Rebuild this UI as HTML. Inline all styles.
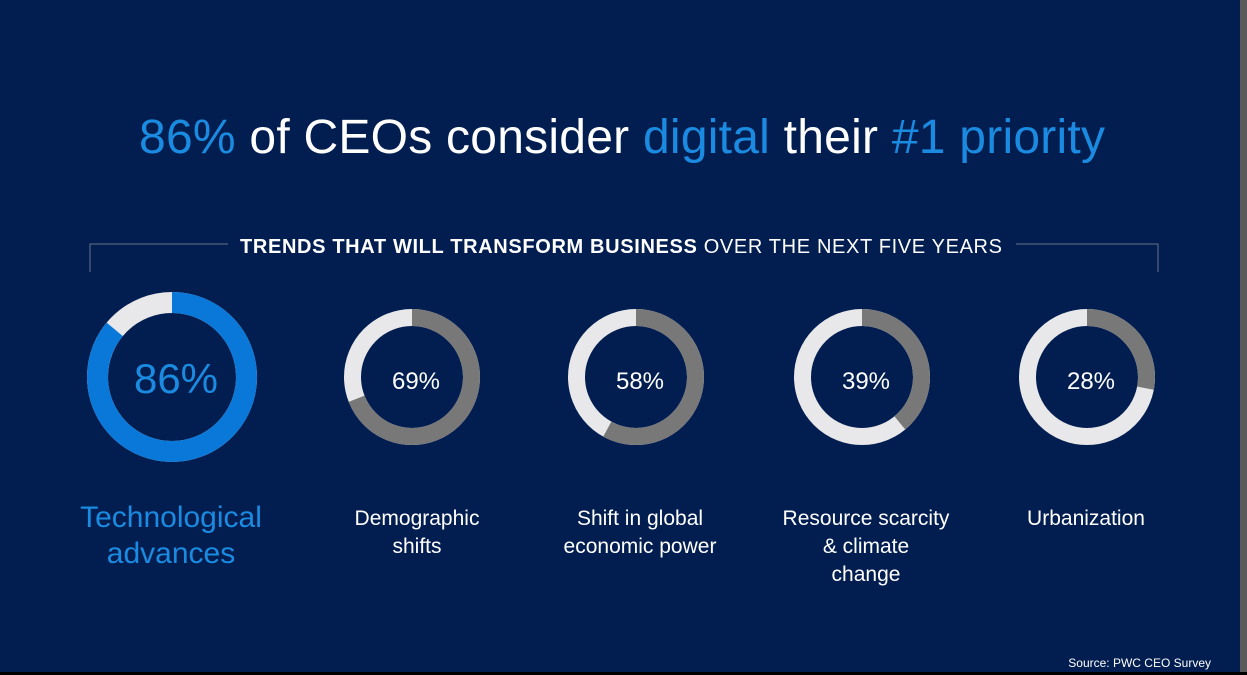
<!DOCTYPE html>
<html><head><meta charset="utf-8"><style>
html,body{margin:0;padding:0;width:1247px;height:675px;overflow:hidden;background:#000;}
svg{display:block}
</style></head><body>
<svg width="1247" height="675" viewBox="0 0 1247 675" xmlns="http://www.w3.org/2000/svg" font-family="'Liberation Sans', sans-serif">
<rect x="0" y="0" width="1240" height="672" fill="#021e51"/>
<rect x="1240" y="0" width="7" height="672" fill="#5a5a5a"/>
<text x="622" y="153" text-anchor="middle" font-size="48" textLength="966" fill="#fff"><tspan fill="#1a8be0">86%</tspan> of CEOs consider <tspan fill="#1a8be0">digital</tspan> their <tspan fill="#1a8be0">#1 priority</tspan></text>
<path d="M90 272 V244 H228 M1016 244 H1158 V272" stroke="#6a7286" stroke-width="1" fill="none"/>
<text x="621" y="253" text-anchor="middle" font-size="20" textLength="762" fill="#fff"><tspan font-weight="bold">TRENDS THAT WILL TRANSFORM BUSINESS</tspan> OVER THE NEXT FIVE YEARS</text>
<circle cx="172" cy="377" r="74.5" fill="none" stroke="#e8e8ea" stroke-width="21"/>
<circle cx="172" cy="377" r="74.5" fill="none" stroke="#0a78d8" stroke-width="21" stroke-dasharray="402.6 1000" transform="rotate(-90 172 377)"/>
<text x="176" y="393" text-anchor="middle" font-size="42" fill="#1a8be0">86%</text>
<text x="171" y="527" text-anchor="middle" font-size="30" fill="#1a8be0">Technological</text>
<text x="171" y="563" text-anchor="middle" font-size="30" fill="#1a8be0">advances</text>
<g font-size="24" fill="#fff" text-anchor="middle">
<circle cx="412" cy="377" r="59.5" fill="none" stroke="#e8e8ea" stroke-width="17"/>
<circle cx="412" cy="377" r="59.5" fill="none" stroke="#787878" stroke-width="17" stroke-dasharray="258 1000" transform="rotate(-90 412 377)"/>
<text x="416" y="389">69%</text>
<text x="417" y="525" font-size="21">Demographic</text><text x="417" y="553" font-size="21">shifts</text>
<circle cx="636" cy="377" r="59.5" fill="none" stroke="#e8e8ea" stroke-width="17"/>
<circle cx="636" cy="377" r="59.5" fill="none" stroke="#787878" stroke-width="17" stroke-dasharray="216.8 1000" transform="rotate(-90 636 377)"/>
<text x="640" y="389">58%</text>
<text x="640" y="525" font-size="21">Shift in global</text><text x="640" y="553" font-size="21">economic power</text>
<circle cx="862" cy="377" r="59.5" fill="none" stroke="#e8e8ea" stroke-width="17"/>
<circle cx="862" cy="377" r="59.5" fill="none" stroke="#787878" stroke-width="17" stroke-dasharray="145.8 1000" transform="rotate(-90 862 377)"/>
<text x="866" y="389">39%</text>
<text x="866" y="525" font-size="21">Resource scarcity</text><text x="866" y="553" font-size="21">&amp; climate</text><text x="866" y="581" font-size="21">change</text>
<circle cx="1087" cy="377" r="59.5" fill="none" stroke="#e8e8ea" stroke-width="17"/>
<circle cx="1087" cy="377" r="59.5" fill="none" stroke="#787878" stroke-width="17" stroke-dasharray="104.7 1000" transform="rotate(-90 1087 377)"/>
<text x="1091" y="389">28%</text>
<text x="1086" y="525" font-size="21">Urbanization</text>
</g>
<text x="1211" y="667" text-anchor="end" font-size="12" fill="#fff">Source: PWC CEO Survey</text>
</svg>
</body></html>
